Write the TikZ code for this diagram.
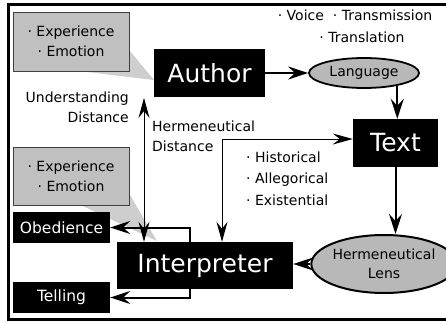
\documentclass[tikz,border=0pt]{standalone}
\usepackage{fontspec}
\setmainfont{DejaVu Sans}
\usetikzlibrary{arrows.meta,shapes.geometric}
\definecolor{boxgray}{RGB}{192,192,192}
\definecolor{wedgegray}{RGB}{206,206,206}
\definecolor{ellgray}{RGB}{184,184,184}
\begin{document}
\begin{tikzpicture}[x=1pt,y=-1pt,
  small/.style={font=\fontsize{14}{20}\selectfont},
  big/.style={font=\fontsize{25}{30}\selectfont},
  graybox/.style={draw=black!75, line width=0.8pt, fill=boxgray, inner sep=0pt, align=center, small},
  blackbox/.style={fill=black, text=white, inner sep=0pt},
  midbox/.style={blackbox, font=\fontsize{15.5}{18}\selectfont, minimum width=97pt, minimum height=31pt},
  ell/.style={ellipse, draw=black, line width=1.8pt, fill=ellgray, inner sep=0pt, align=center, small},
  label/.style={small, inner sep=0pt},
  tip/.style={},
  conn/.style={line width=2pt, -{Stealth[length=20pt,width=13pt,inset=7pt]}},
  thinconn/.style={line width=0.9pt, {Stealth[length=20pt,width=11pt,inset=7pt]}-{Stealth[length=20pt,width=11pt,inset=7pt]}}
]
\useasboundingbox (0,0) rectangle (446,323);

% callout wedges
\fill[wedgegray] (70,70) -- (120,39) -- (154,80) -- cycle;
\fill[wedgegray] (70,200) -- (120,178) -- (157,241) -- cycle;

% frame
\draw[line width=3pt] (8,4.5) rectangle (449,319);

% nodes
\node[graybox, minimum width=116pt, minimum height=59pt] (exp1) at (71,41.5) {· Experience\\· Emotion};
\node[graybox, minimum width=116pt, minimum height=58pt] (exp2) at (71,176) {· Experience\\· Emotion};
\node[blackbox, big, minimum width=111pt, minimum height=48pt] (author) at (209.5,73) {Author};
\node[ell, minimum width=110pt, minimum height=30pt] (lang) at (364,73) {Language};
\node[blackbox, big, minimum width=85pt, minimum height=48pt] (text) at (395.5,143) {Text};
\node[ell, line width=2pt, minimum width=122pt, minimum height=58pt, font=\fontsize{14}{18.5}\selectfont] (lens) at (384,264) {Hermeneutical\\Lens};
\node[blackbox, big, minimum width=176pt, minimum height=47pt] (interp) at (205,265.5) {Interpreter};
\node[midbox] (obed) at (61.5,227.5) {Obedience};
\node[midbox] (tell) at (61.5,297.5) {Telling};

% text labels
\node[label] (voice) at (355,15) {· Voice\ \ · Transmission};
\node[label] (transl) at (362,37) {· Translation};
\node[label, align=right, anchor=east] (ud) at (129,107) {Understanding\\Distance};
\node[label, align=left, anchor=west] (hd) at (152,136.5) {Hermeneutical\\Distance};
\node[label, align=left, anchor=west, font=\fontsize{14}{21.5}\selectfont] (senses) at (246,178.5) {· Historical\\· Allegorical\\· Existential};

% connectors
\draw[conn, line width=2.5pt] (author) -- (lang);
\draw[conn] (lang.-21) -- (lang.-21 |- text.north);
\draw[conn] (text.south) -- (text.south |- lens.north);
\draw[conn] (lens.west) -- (lens.west -| interp.east);
\coordinate (obx) at (190,0);
\draw[conn] (obx |- interp.north) |- (obed.east);
\draw[conn] (obx |- interp.south) |- (tell.east);
\coordinate (udtop) at (144,98);
\draw[thinconn] (udtop) -- (udtop |- interp.north);
\coordinate (hdx) at (222,140);
\draw[thinconn] ([yshift=4pt]text.west) -| (hdx |- interp.north);
\end{tikzpicture}
\end{document}
